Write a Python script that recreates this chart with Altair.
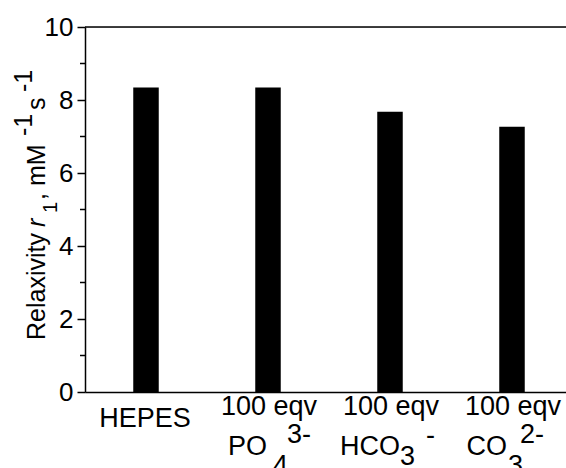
import altair as alt
import pandas as pd

# ---- data ----
categories = ["HEPES", "PO4", "HCO3", "CO3"]
relaxivity = [8.34, 8.34, 7.68, 7.27]
line1 = ["HEPES", "100 eqv", "100 eqv", "100 eqv"]
ion_base = ["", "PO", "HCO", "CO"]
ion_sub = ["", "4", "3", "3"]
ion_sup = ["", "3-", "-", "2-"]
y_ticks = [0, 2, 4, 6, 8, 10]
y_minor = [1, 3, 5, 7, 9]

FONT = "Liberation Sans, Arial, sans-serif"
FS = 26
XFS = 27

df = pd.DataFrame({
    "cat": categories,
    "val": relaxivity,
    "line1": line1,
    "base": ion_base,
    "sub": ion_sub,
    "sup": ion_sup,
})

x_scale = alt.Scale(domain=categories, range=[0, 488], paddingInner=0, paddingOuter=0)
y_scale = alt.Scale(domain=[0, 10], nice=False, zero=True)

x_enc = alt.X("cat:N", sort=categories, scale=x_scale,
              axis=alt.Axis(labels=False, ticks=False, title=None, grid=False,
                            domainColor="black", domainWidth=1.5))

y_axis = alt.Axis(values=y_ticks, format="d", title=None, grid=False,
                  tickSize=8, tickWidth=1.5, tickColor="black",
                  domainColor="black", domainWidth=1.5,
                  labelFontSize=FS, labelFont=FONT, labelColor="black",
                  labelPadding=4)

bars = alt.Chart(df).mark_bar(width=25.5, color="black").encode(
    x=x_enc,
    y=alt.Y("val:Q", scale=y_scale, axis=y_axis),
)

minor = alt.Chart(pd.DataFrame({"val": y_minor})).mark_rule(color="black", strokeWidth=1.5).encode(
    y=alt.Y("val:Q", scale=y_scale, axis=y_axis),
    x=alt.value(-5), x2=alt.value(0),
)

top_line = alt.Chart(pd.DataFrame({"val": [10]})).mark_rule(color="black", strokeWidth=1.5).encode(
    y=alt.Y("val:Q", scale=y_scale, axis=y_axis),
)

layers = [bars, minor, top_line]

# first label line
txt_kw = dict(font=FONT, fontSize=XFS, color="black", baseline="alphabetic")
layers.append(
    alt.Chart(df).transform_filter(alt.datum.cat == "HEPES")
    .mark_text(align="center", dx=-1, dy=35, **txt_kw)
    .encode(x=x_enc, y=alt.YDatum(0, scale=y_scale, axis=y_axis), text="line1:N")
)
layers.append(
    alt.Chart(df).transform_filter(alt.datum.cat != "HEPES")
    .mark_text(align="center", dx=1, dy=23, **txt_kw)
    .encode(x=x_enc, y=alt.YDatum(0, scale=y_scale, axis=y_axis), text="line1:N")
)

# ion formula pieces (style offsets per category)
ion_style = {
    "PO4":  {"base": (-1, 63), "sub": (5, 82), "sup": (19, 51)},
    "HCO3": {"base": (10, 63), "sub": (10, 73), "sup": (36, 52)},
    "CO3":  {"base": (-5, 63), "sub": (-4, 82), "sup": (8, 51)},
}
for cat, st in ion_style.items():
    for part, (dx, dy) in st.items():
        align = "right" if part == "base" else "left"
        layers.append(
            alt.Chart(df).transform_filter(alt.datum.cat == cat)
            .mark_text(align=align, dx=dx, dy=dy, **txt_kw)
            .encode(x=x_enc, y=alt.YDatum(0, scale=y_scale, axis=y_axis), text=f"{part}:N")
        )

# rotated y-axis title pieces: (text, x baseline, y start, size, italic)
TS = 25
title_pieces = [
    ("Relaxivity", -40, 313, TS, False),
    ("r", -40, 200, TS, True),
    ("1", -28, 186, 20, False),
    (", mM", -40, 173, TS, False),
    ("-1", -53, 109, TS, False),
    ("s", -40, 83, TS, False),
    ("-1", -53, 65, TS, False),
]
for t, xb, ys, size, ital in title_pieces:
    layers.append(
        alt.Chart(pd.DataFrame({"t": [t]})).mark_text(
            angle=270, align="left", baseline="alphabetic", font=FONT,
            fontSize=size, color="black", fontStyle="italic" if ital else "normal",
        ).encode(x=alt.value(xb), y=alt.value(ys), text="t:N")
    )

chart = alt.layer(*layers).properties(
    width=481, height=365,
    autosize=alt.AutoSizeParams(type="none"),
    padding={"left": 85, "top": 27, "right": 0, "bottom": 76},
).configure_view(stroke=None).configure(background="white")

chart.save("out.html", embed_options={"renderer": "svg", "actions": False})
